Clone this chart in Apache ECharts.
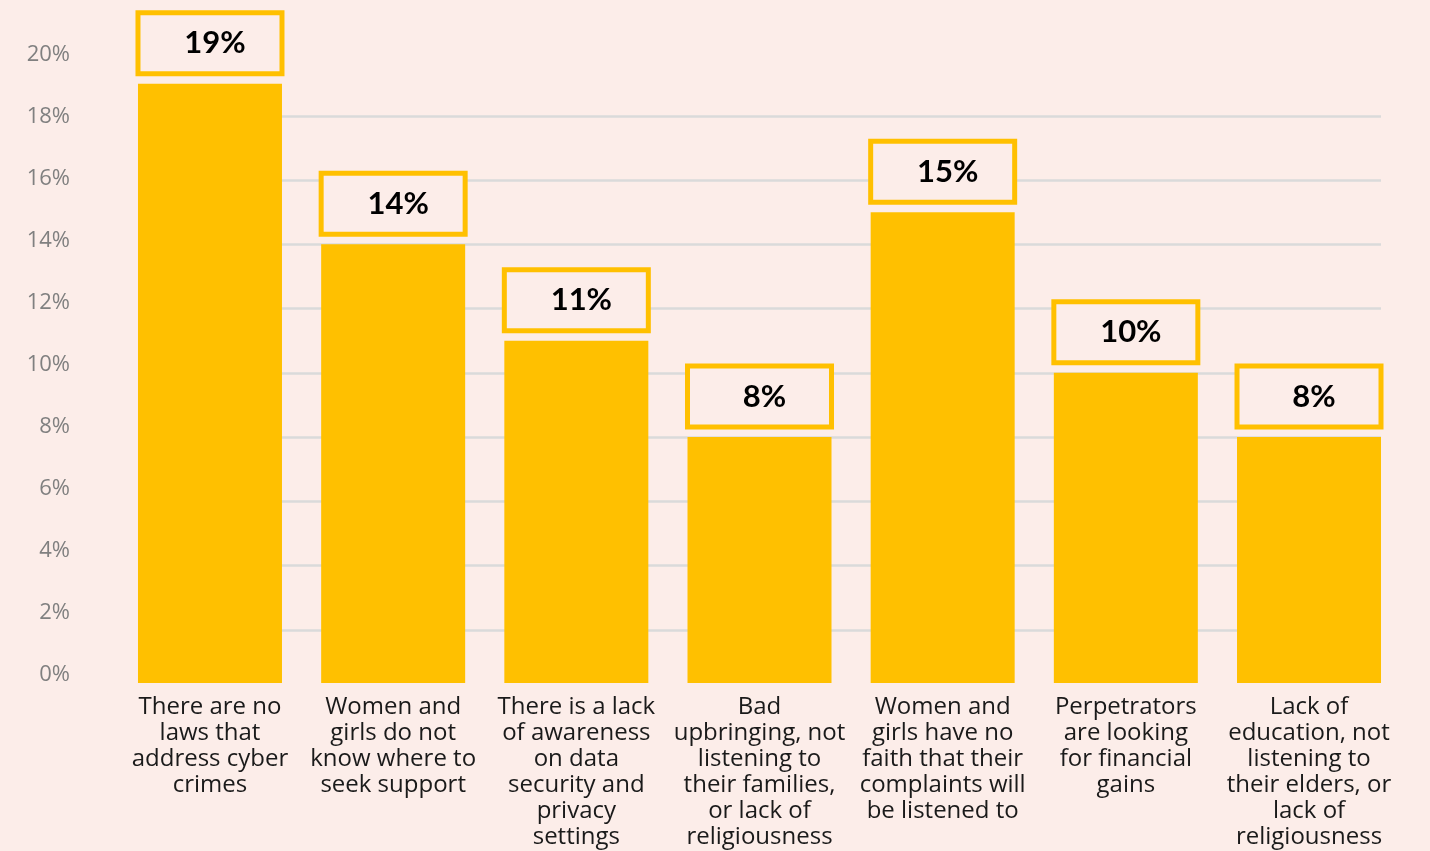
<!DOCTYPE html>
<html>
<head>
<meta charset="utf-8">
<script src="https://cdn.jsdelivr.net/npm/echarts@6/dist/echarts.min.js"></script>
<style>
    html, body { margin: 0; padding: 0; background: #fcede9; }
    #chart { width: 1430px; height: 851px; }
</style>
</head>
<body>
<div id="chart"></div>
<script>
//分类
const categories = [
    'There are no\nlaws that\naddress cyber\ncrimes',
    'Women and\ngirls do not\nknow where to\nseek support',
    'There is a lack\nof awareness\non data\nsecurity and\nprivacy\nsettings',
    'Bad\nupbringing, not\nlistening to\ntheir families,\nor lack of\nreligiousness',
    'Women and\ngirls have no\nfaith that their\ncomplaints will\nbe listened to',
    'Perpetrators\nare looking\nfor financial\ngains',
    'Lack of\neducation, not\nlistening to\ntheir elders, or\nlack of\nreligiousness'
];
//数值 (%)
const values = [19, 14, 11, 8, 15, 10, 8];
//纵轴刻度
const yTicks = [0, 2, 4, 6, 8, 10, 12, 14, 16, 18, 20];

const bg = '#fcede9';
const yellow = '#ffc000';
const font = 'Lato';
const catFont = 'Open Sans';

const chart = echarts.init(document.getElementById('chart'));

const option = {
    backgroundColor: bg,
    animation: false,
    textStyle: { fontFamily: font },
    grid: [
        // bars
        { left: 118.4, right: 29.4, top: 51.5, bottom: 157 },
        // gridlines
        { left: 138, right: 49, top: 116, bottom: 157 },
        // y labels
        { left: 78, right: 49, top: 55, bottom: 176 }
    ],
    xAxis: [
        {
            gridIndex: 0,
            type: 'category',
            data: categories,
            z: 5,
            axisTick: { show: false },
            axisLine: { show: true, lineStyle: { color: bg, width: 22 } },
            axisLabel: {
                interval: 0,
                margin: 0,
                color: '#1a1a1a',
                fontSize: 24,
                lineHeight: 26,
                fontFamily: catFont
            }
        },
        { gridIndex: 1, type: 'category', data: categories, show: false },
        { gridIndex: 2, type: 'category', data: categories, show: false }
    ],
    yAxis: [
        { gridIndex: 0, type: 'value', min: 0, max: 20, interval: 2, show: false },
        {
            gridIndex: 1, type: 'value', min: 0, max: 18, interval: 2,
            axisLine: { show: false },
            axisTick: { show: false },
            axisLabel: { show: false },
            splitLine: { show: true, lineStyle: { color: '#dadada', width: 2.5 } }
        },
        {
            gridIndex: 2, type: 'value',
            min: yTicks[0], max: yTicks[yTicks.length - 1], interval: 2,
            axisLine: { show: false },
            axisTick: { show: false },
            splitLine: { show: false },
            axisLabel: {
                margin: 8,
                color: '#808080',
                fontSize: 22,
                fontFamily: catFont,
                formatter: '{value}%'
            }
        }
    ],
    series: [{
        type: 'bar',
        xAxisIndex: 0,
        yAxisIndex: 0,
        data: values,
        barWidth: 144,
        itemStyle: { color: yellow },
        label: {
            show: true,
            position: 'top',
            distance: 12.5,
            formatter: '{c}%',
            color: '#000',
            fontSize: 31,
            fontWeight: 'bold',
            fontFamily: font,
            backgroundColor: bg,
            borderColor: yellow,
            borderWidth: 5,
            width: 129,
            height: 56,
            lineHeight: 56,
            padding: [0, 0, 0, 10],
            align: 'center'
        }
    }]
};

chart.setOption(option);
</script>
</body>
</html>
